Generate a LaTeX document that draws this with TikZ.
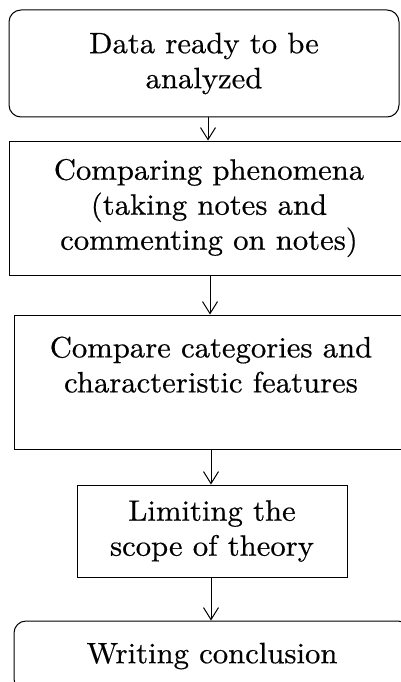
\documentclass[tikz,border=0pt]{standalone}
\usepackage{fontspec}
\setmainfont{lmroman10-regular.otf}[FakeStretch=1.04,FakeBold=0.5]
\usetikzlibrary{arrows.meta}
\begin{document}
\begin{tikzpicture}[x=1pt,y=1pt,
  box/.style={draw, line width=1pt, align=center, inner sep=0pt, font=\fontsize{29.5}{35}\selectfont},
  rbox/.style={box, rounded corners=12pt},
  arr/.style={line width=1pt, -{Straight Barb[length=12pt,width=15pt,line width=1pt]}}]
\useasboundingbox (0,0) rectangle (400,-682);
\node[rbox, minimum width=390pt, minimum height=107pt] (b1) at (204,-63.5) {Data ready to be\\analyzed};
\node[box, minimum width=400pt, minimum height=134pt] (b2) at (209,-208) {Comparing phenomena\\(taking notes and\\commenting on notes)};
\node[box, minimum width=394pt, minimum height=134pt] (b3) at (211,-382) {Compare categories and\\characteristic features\\\mbox{}};
\node[box, minimum width=270pt, minimum height=92pt] (b4) at (212,-531) {Limiting the\\scope of theory};
\node[rbox, minimum width=396pt, minimum height=70pt] (b5) at (212,-656) {Writing conclusion};
\draw[arr] ([xshift=4pt]b1.south) -- ([xshift=4pt]b1.south |- b2.north);
\draw[arr] ([xshift=1pt]b2.south) -- ([xshift=1pt]b2.south |- b3.north);
\draw[arr] (b3.south) -- (b3.south |- b4.north);
\draw[arr] ([xshift=-1pt]b4.south) -- ([xshift=-1pt]b4.south |- b5.north);
\end{tikzpicture}
\end{document}
